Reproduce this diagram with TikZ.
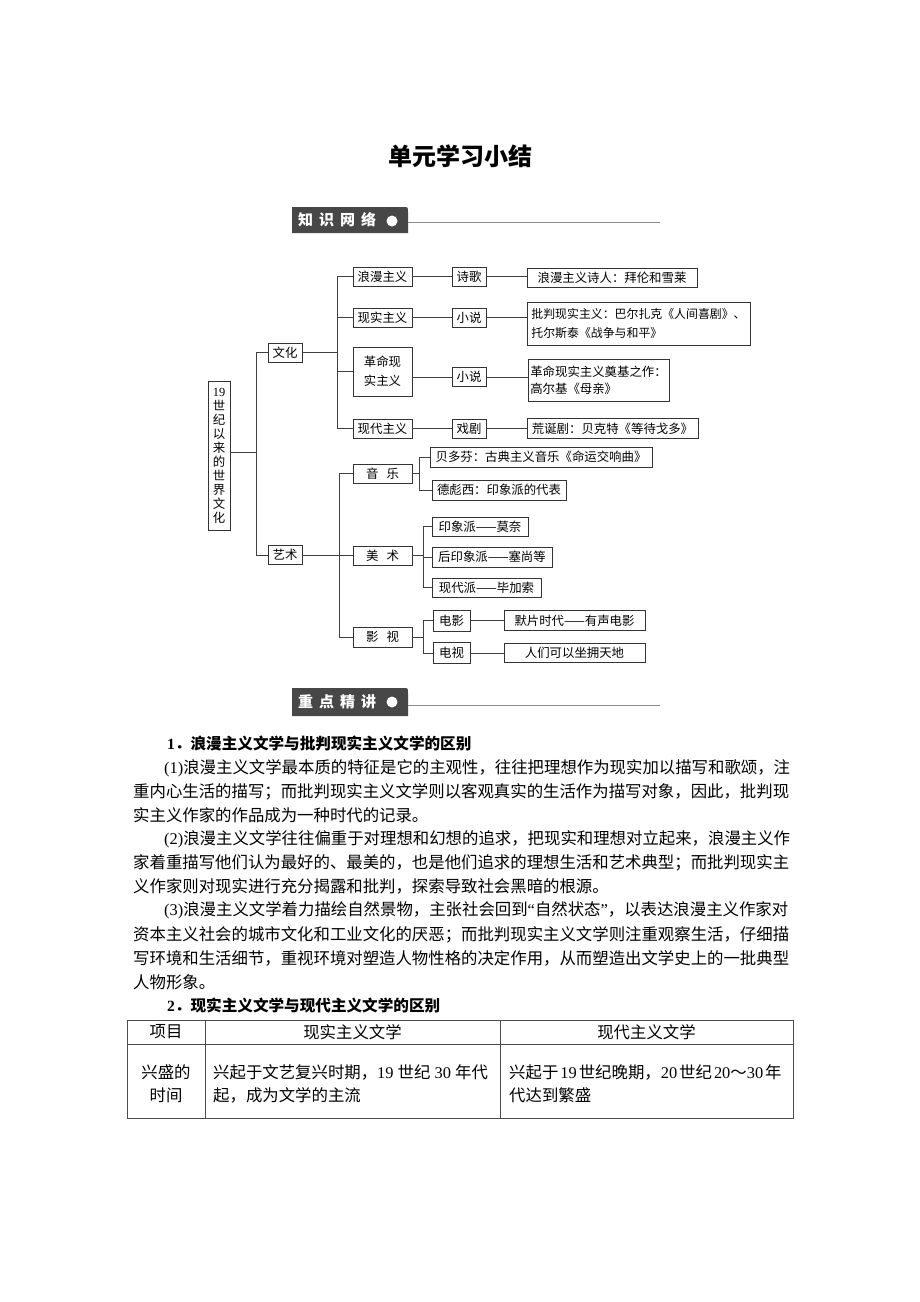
\documentclass[tikz,border=0pt]{standalone}
\usepackage{fontspec}
\setmainfont{Liberation Serif}
\newfontfamily\cjk{Noto Sans CJK SC}
\newcommand\lat[1]{{\rmfamily #1}}

\tikzset{
  box/.style={draw=black!80, line width=0.6pt, inner sep=0pt, minimum height=19pt, font=\cjk\fontsize{12.4}{14}\selectfont},
  link/.style={draw=black!75, line width=0.6pt},
  rule/.style={draw=black!70, line width=0.8pt},
  txtline/.style={anchor=west, inner sep=0pt, font=\cjk\fontsize{16.4}{20}\selectfont},
  headline/.style={anchor=west, inner sep=0pt, font=\cjk\bfseries\fontsize{15.6}{20}\selectfont},
  cell/.style={inner sep=0pt, font=\cjk\fontsize{16.4}{23}\selectfont},
  bartext/.style={text=white, inner sep=0pt, font=\cjk\bfseries\fontsize{15}{18}\selectfont},
}
\colorlet{bargray}{black!72}

\begin{document}
\begin{tikzpicture}[x=1pt, y=-1pt]
	\useasboundingbox (0,0) rectangle (920,1302);

	\node[font=\cjk\bfseries\fontsize{24}{28}\selectfont] (title) at (460,156) {单元学习小结};

	%bandeau 1
	\fill[bargray] (292,233) -- (292,207) -- (403,207) .. controls (408,207) .. (408,212) -- (408,233) -- cycle;
	\node[bartext] (netlabel) at (337,220) {知\hspace{6pt}识\hspace{6pt}网\hspace{6pt}络};
	\fill[white] (392,221) circle (5.5);
	\draw[draw=black!45, line width=0.9pt] (408,222) -- (660,222);

	%arbre
	\node[box, minimum width=22pt, minimum height=149pt, align=center] (root) at (219,455.5) {\lat{19}\\世\\纪\\以\\来\\的\\世\\界\\文\\化};

	\node[box, minimum width=34pt] (culture) at (285,352.5) {文化};
	\node[box, minimum width=34pt] (art)     at (285,555)   {艺术};

	\node[box, minimum width=59pt] (roman)  at (382.5,276.5) {浪漫主义};
	\node[box, minimum width=59pt] (real)   at (382.5,317.5) {现实主义};
	\node[box, minimum width=59pt, minimum height=49pt, align=center, font=\cjk\fontsize{12.4}{19}\selectfont] (revol) at (382.5,371.5) {革命现\\实主义};
	\node[box, minimum width=59pt] (modern) at (382.5,428.5) {现代主义};

	\node[box, minimum width=34pt] (poetry) at (469,276.5) {诗歌};
	\node[box, minimum width=34pt] (novel)  at (469,317.5) {小说};
	\node[box, minimum width=34pt] (novelb) at (469,377)   {小说};
	\node[box, minimum width=34pt] (drama)  at (469,428.5) {戏剧};

	\node[box, minimum width=170pt] (byron) at (612,277.5) {浪漫主义诗人：拜伦和雪莱};
	\node[box, minimum width=223pt, minimum height=43pt, align=left, font=\cjk\fontsize{11.9}{19}\selectfont] (balzac) at (638.5,323.5) {批判现实主义：巴尔扎克《人间喜剧》、\\托尔斯泰《战争与和平》};
	\node[box, minimum width=141pt, minimum height=42pt, align=left, font=\cjk\fontsize{12.4}{17}\selectfont] (gorky) at (598.5,380) {革命现实主义奠基之作：\\高尔基《母亲》};
	\node[box, minimum width=171pt, minimum height=20pt] (beckett) at (612.5,428.5) {荒诞剧：贝克特《等待戈多》};

	\node[box, minimum width=59pt] (music)   at (382.5,473.5) {音\hspace{8pt}乐};
	\node[box, minimum width=59pt] (fineart) at (382.5,555.5) {美\hspace{8pt}术};
	\node[box, minimum width=59pt, minimum height=20pt] (film) at (382.5,637) {影\hspace{8pt}视};

	\node[box, minimum width=222pt, minimum height=20pt] (beethoven) at (541,457) {贝多芬：古典主义音乐《命运交响曲》};
	\node[box, minimum width=134pt, minimum height=20pt] (debussy)   at (499,490) {德彪西：印象派的代表};

	\node[box, minimum width=96pt]  (monet)   at (480,526.5) {印象派——莫奈};
	\node[box, minimum width=120pt, minimum height=20pt] (cezanne) at (492,557) {后印象派——塞尚等};
	\node[box, minimum width=109pt] (picasso) at (486.5,587.5) {现代派——毕加索};

	\node[box, minimum width=37pt, minimum height=21pt] (movie) at (451.5,620.5) {电影};
	\node[box, minimum width=37pt, minimum height=21pt] (tv)    at (451.5,653)   {电视};
	\node[box, minimum width=141pt, minimum height=20pt] (silent) at (574.5,620.5) {默片时代——有声电影};
	\node[box, minimum width=141pt] (world) at (574.5,653) {人们可以坐拥天地};

	%liaisons
	\coordinate (trunk) at (256,452);
	\coordinate (busa) at (337,352.5);
	\coordinate (busb) at (339,555);
	\coordinate (busc) at (419,473.5);
	\coordinate (busd) at (423,555.5);
	\coordinate (buse) at (423,637);

	\draw[link] (root.east |- trunk) -- (trunk);
	\draw[link] (trunk) |- (culture);
	\draw[link] (trunk) |- (art);

	\draw[link] (culture) -- (busa);
	\draw[link] (busa) |- (roman);
	\draw[link] (busa) |- (real);
	\draw[link] (busa) |- (revol);
	\draw[link] (busa) |- (modern);

	\draw[link] (roman) -- (poetry);
	\draw[link] (real) -- (novel);
	\draw[link] (revol.east |- novelb) -- (novelb);
	\draw[link] (modern) -- (drama);

	\draw[link] (poetry) -- (byron.west |- poetry);
	\draw[link] (novel) -- (balzac.west |- novel);
	\draw[link] (novelb) -- (gorky.west |- novelb);
	\draw[link] (drama) -- (beckett);

	\draw[link] (art) -- (busb);
	\draw[link] (busb) |- (music);
	\draw[link] (busb) |- (fineart);
	\draw[link] (busb) |- (film);

	\draw[link] (music) -- (busc);
	\draw[link] (busc) |- (beethoven);
	\draw[link] (busc) |- (debussy);

	\draw[link] (fineart) -- (busd);
	\draw[link] (busd) |- (monet);
	\draw[link] (busd) |- (cezanne);
	\draw[link] (busd) |- (picasso);

	\draw[link] (film) -- (buse);
	\draw[link] (buse) |- (movie);
	\draw[link] (buse) |- (tv);
	\draw[link] (movie) -- (silent);
	\draw[link] (tv) -- (world);

	%bandeau 2
	\fill[bargray] (292,716) -- (292,688) -- (403,688) .. controls (408,688) .. (408,693) -- (408,716) -- cycle;
	\node[bartext] (keylabel) at (337,702) {重\hspace{6pt}点\hspace{6pt}精\hspace{6pt}讲};
	\fill[white] (392,702) circle (5.5);
	\draw[draw=black!45, line width=0.9pt] (408,705) -- (660,705);

	%texte
	\node[headline] (heada) at (167,744) {\lat{1}．浪漫主义文学与批判现实主义文学的区别};
	\node[txtline] (la) at (164,767.8) {\lat{(1)}浪漫主义文学最本质的特征是它的主观性，往往把理想作为现实加以描写和歌颂，注};
	\node[txtline] (lb) at (133,791.6) {重内心生活的描写；而批判现实主义文学则以客观真实的生活作为描写对象，因此，批判现};
	\node[txtline] (lc) at (133,815.4) {实主义作家的作品成为一种时代的记录。};
	\node[txtline] (ld) at (164,839.2) {\lat{(2)}浪漫主义文学往往偏重于对理想和幻想的追求，把现实和理想对立起来，浪漫主义作};
	\node[txtline] (le) at (133,863)   {家着重描写他们认为最好的、最美的，也是他们追求的理想生活和艺术典型；而批判现实主};
	\node[txtline] (lf) at (133,886.8) {义作家则对现实进行充分揭露和批判，探索导致社会黑暗的根源。};
	\node[txtline] (lg) at (164,910.6) {\lat{(3)}浪漫主义文学着力描绘自然景物，主张社会回到\lat{“}自然状态\lat{”}，以表达浪漫主义作家对};
	\node[txtline] (lh) at (133,934.4) {资本主义社会的城市文化和工业文化的厌恶；而批判现实主义文学则注重观察生活，仔细描};
	\node[txtline] (li) at (133,958.2) {写环境和生活细节，重视环境对塑造人物性格的决定作用，从而塑造出文学史上的一批典型};
	\node[txtline] (lj) at (133,982)   {人物形象。};
	\node[headline] (headb) at (167,1005.8) {\lat{2}．现实主义文学与现代主义文学的区别};

	%tableau
	\draw[rule] (127,1020) rectangle (793,1118);
	\draw[rule] (127,1044) -- (793,1044);
	\draw[rule] (205,1020) -- (205,1118);
	\draw[rule] (500,1020) -- (500,1118);

	\node[cell] (item)   at (166,1032)   {项目};
	\node[cell] (realhd) at (352.5,1032) {现实主义文学};
	\node[cell] (modhd)  at (646.5,1032) {现代主义文学};
	\node[cell, align=center] (rise) at (166,1083.5) {兴盛的\\时间};
	\node[cell, align=left, anchor=west] (realrise) at (213,1083.5) {兴起于文艺复兴时期，\lat{19 }世纪\lat{ 30 }年代\\起，成为文学的主流};
	\node[cell, align=left, anchor=west] (modrise)  at (509,1083.5) {兴起于\lat{\hspace{2pt}19\hspace{2pt}}世纪晚期，\lat{20\hspace{2pt}}世纪\lat{\hspace{2pt}20}～\lat{30\hspace{2pt}}年\\代达到繁盛};
\end{tikzpicture}
\end{document}
